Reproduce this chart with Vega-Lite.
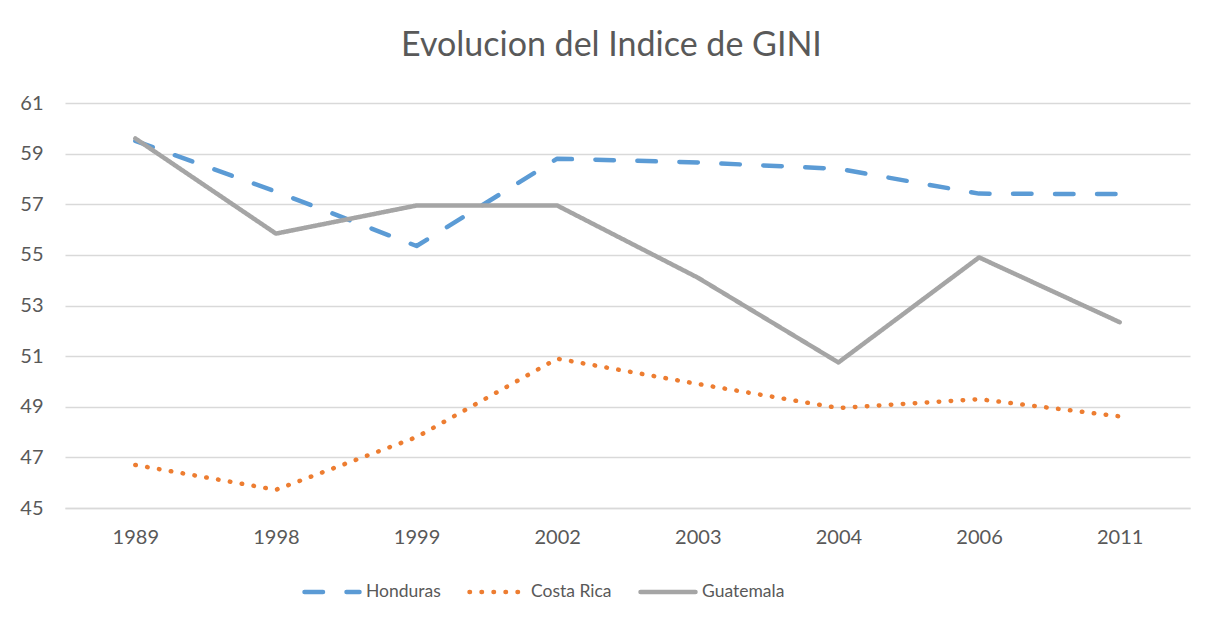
{
  "$schema": "https://vega.github.io/schema/vega-lite/v6.json",
  "width": 1125,
  "height": 405,
  "autosize": "none",
  "padding": {"left": 65, "top": 103, "right": 28, "bottom": 123},
  "background": "white",
  "title": {
    "text": "Evolucion del Indice de GINI",
    "font": "Lato",
    "fontSize": 34,
    "fontWeight": "normal",
    "color": "#595959",
    "anchor": "middle",
    "dx": -16,
    "offset": 30
  },
  "config": {
    "view": {"stroke": null},
    "axis": {
      "labelFont": "Lato",
      "labelFontSize": 20,
      "labelColor": "#595959",
      "gridColor": "#d9d9d9",
      "gridWidth": 1.5,
      "ticks": false,
      "title": null
    }
  },
  "data": {
    "values": [
      {"year": "1989", "country": "Honduras", "gini": 59.5},
      {"year": "1998", "country": "Honduras", "gini": 57.5},
      {"year": "1999", "country": "Honduras", "gini": 55.35},
      {"year": "2002", "country": "Honduras", "gini": 58.8},
      {"year": "2003", "country": "Honduras", "gini": 58.65},
      {"year": "2004", "country": "Honduras", "gini": 58.4},
      {"year": "2006", "country": "Honduras", "gini": 57.42},
      {"year": "2011", "country": "Honduras", "gini": 57.4},
      {"year": "1989", "country": "Costa Rica", "gini": 46.7},
      {"year": "1998", "country": "Costa Rica", "gini": 45.72},
      {"year": "1999", "country": "Costa Rica", "gini": 47.8},
      {"year": "2002", "country": "Costa Rica", "gini": 50.9},
      {"year": "2003", "country": "Costa Rica", "gini": 49.9},
      {"year": "2004", "country": "Costa Rica", "gini": 48.95},
      {"year": "2006", "country": "Costa Rica", "gini": 49.3},
      {"year": "2011", "country": "Costa Rica", "gini": 48.62},
      {"year": "1989", "country": "Guatemala", "gini": 59.6},
      {"year": "1998", "country": "Guatemala", "gini": 55.84},
      {"year": "1999", "country": "Guatemala", "gini": 56.95},
      {"year": "2002", "country": "Guatemala", "gini": 56.95},
      {"year": "2003", "country": "Guatemala", "gini": 54.1},
      {"year": "2004", "country": "Guatemala", "gini": 50.75},
      {"year": "2006", "country": "Guatemala", "gini": 54.9},
      {"year": "2011", "country": "Guatemala", "gini": 52.34}
    ]
  },
  "mark": {"type": "line", "strokeWidth": 4.5, "strokeCap": "round", "strokeJoin": "round"},
  "encoding": {
    "x": {
      "field": "year",
      "type": "ordinal",
      "sort": null,
      "scale": {"type": "point", "padding": 0.5},
      "axis": {
        "labelAngle": 0,
        "grid": false,
        "domain": true,
        "domainColor": "#d9d9d9",
        "domainWidth": 1.5,
        "labelPadding": 19
      }
    },
    "y": {
      "field": "gini",
      "type": "quantitative",
      "scale": {"domain": [45, 61], "nice": false, "zero": false},
      "axis": {
        "values": [45, 47, 49, 51, 53, 55, 57, 59, 61],
        "domain": false,
        "grid": true,
        "labelPadding": 22
      }
    },
    "color": {
      "field": "country",
      "type": "nominal",
      "sort": null,
      "scale": {
        "domain": ["Honduras", "Costa Rica", "Guatemala"],
        "range": ["#5B9BD5", "#ED7D31", "#A5A5A5"]
      },
      "legend": {
        "orient": "none",
        "legendX": 237,
        "legendY": 459,
        "direction": "horizontal",
        "title": null,
        "symbolType": "stroke",
        "symbolSize": 3025,
        "symbolStrokeWidth": 4.5,
        "labelFont": "Lato",
        "labelFontSize": 17.5,
        "labelColor": "#595959",
        "labelOffset": 4,
        "columnPadding": 19,
        "encode": {"symbols": {"update": {"strokeCap": {"value": "round"}}}}
      }
    },
    "strokeDash": {
      "field": "country",
      "type": "nominal",
      "sort": null,
      "scale": {
        "domain": ["Honduras", "Costa Rica", "Guatemala"],
        "range": [[18.5, 23.5], [0.5, 11.5], [1, 0]]
      }
    }
  }
}
